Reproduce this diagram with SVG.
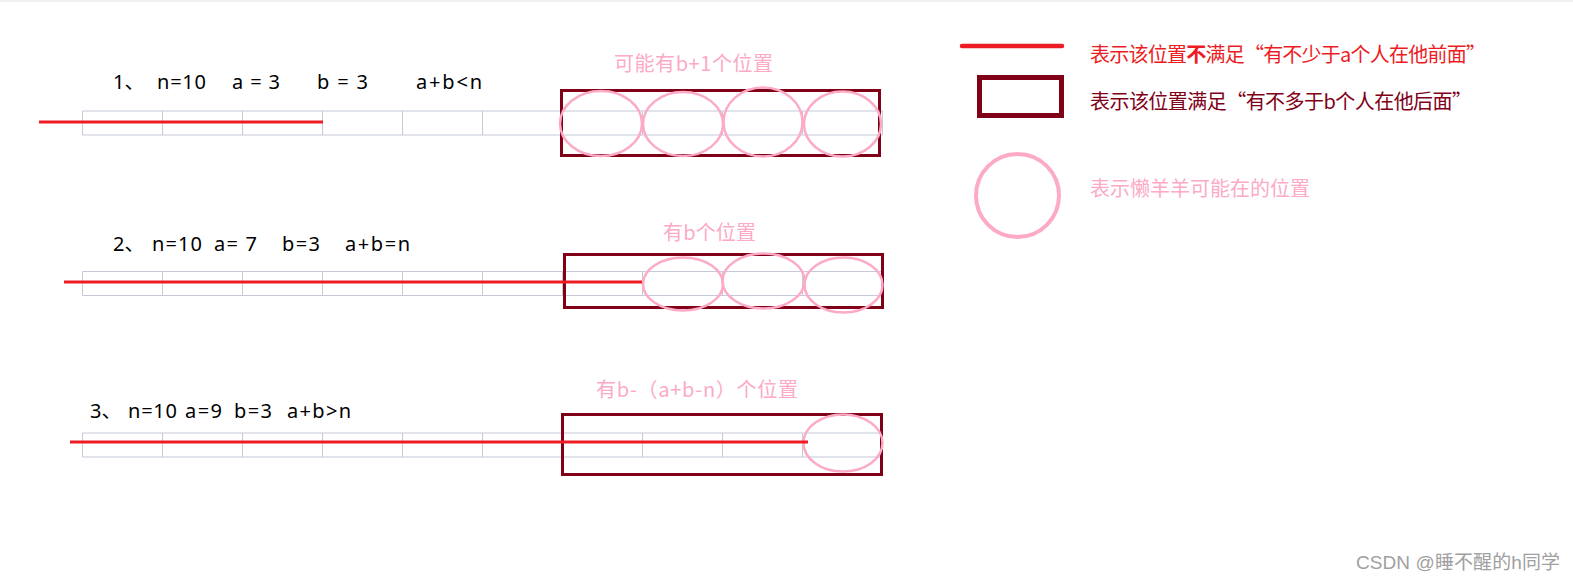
<svg xmlns="http://www.w3.org/2000/svg" width="1573" height="584" viewBox="0 0 1573 584">
<style>
.grid{fill:none;stroke:#c5c9d8;stroke-width:1}
.red{stroke:#ed1c24;stroke-width:3;fill:none}
.box{fill:none;stroke:#800018;stroke-width:3}
.pos{fill:none;stroke:#fcaac6;stroke-width:2.5}
.t{font-family:"Noto Sans","Noto Sans CJK SC",sans-serif;font-size:20px;fill:#000}
.pk{font-family:"Noto Sans CJK SC","Liberation Sans",sans-serif;font-size:20px;fill:#fcaac6}
.lg{font-family:"Noto Sans CJK SC","Liberation Sans",sans-serif;font-size:20px}
.wm{font-family:"Liberation Sans","Noto Sans CJK SC",sans-serif;font-size:19px;fill:#a0a0a0}
</style>
<defs>
<g id="row">
<path class="grid" d="M82.5,0.5H882.5V24.5H82.5Z M162.5,0.5V24.5 M242.5,0.5V24.5 M322.5,0.5V24.5 M402.5,0.5V24.5 M482.5,0.5V24.5 M562.5,0.5V24.5 M642.5,0.5V24.5 M722.5,0.5V24.5 M802.5,0.5V24.5"/>
</g>
</defs>
<rect x="0" y="0" width="1573" height="584" fill="#fff"/>
<rect x="0" y="0" width="1573" height="2" fill="#f0f0f0"/>

<g id="case1">
<use href="#row" x="0" y="110.5"/>
<text class="t" x="113" y="89">1、</text>
<text class="t" x="157" y="89" textLength="49" lengthAdjust="spacing">n=10</text>
<text class="t" x="232" y="89" textLength="48" lengthAdjust="spacing">a = 3</text>
<text class="t" x="317" y="89" textLength="51" lengthAdjust="spacing">b = 3</text>
<text class="t" x="416" y="89" textLength="66" lengthAdjust="spacing">a+b&lt;n</text>
<rect class="box" x="561.5" y="90.5" width="318" height="65"/>
<ellipse class="pos" cx="601" cy="123.5" rx="41" ry="32.5"/>
<ellipse class="pos" cx="683" cy="124" rx="40" ry="32"/>
<ellipse class="pos" cx="763" cy="122" rx="39.5" ry="34.5"/>
<ellipse class="pos" cx="842.5" cy="124" rx="38.5" ry="32.5"/>
<text class="pk" x="614" y="71" textLength="159" lengthAdjust="spacing">可能有b+1个位置</text>
</g>

<g id="case2">
<use href="#row" x="0" y="271"/>
<text class="t" x="113" y="251">2、</text>
<text class="t" x="152" y="251" textLength="50" lengthAdjust="spacing">n=10</text>
<text class="t" x="214" y="251" textLength="43" lengthAdjust="spacing">a= 7</text>
<text class="t" x="282" y="251" textLength="38" lengthAdjust="spacing">b=3</text>
<text class="t" x="345" y="251" textLength="65" lengthAdjust="spacing">a+b=n</text>
<rect class="box" x="564.5" y="254.5" width="318" height="53"/>
<ellipse class="pos" cx="683" cy="284" rx="40" ry="26.5"/>
<ellipse class="pos" cx="763.5" cy="281" rx="41" ry="27.5"/>
<ellipse class="pos" cx="843.5" cy="285" rx="39" ry="27.5"/>
<text class="pk" x="663" y="240" textLength="93" lengthAdjust="spacing">有b个位置</text>
</g>

<g id="case3">
<use href="#row" x="0" y="432.5"/>
<text class="t" x="90" y="418">3、</text>
<text class="t" x="128" y="418" textLength="49" lengthAdjust="spacing">n=10</text>
<text class="t" x="185" y="418" textLength="37" lengthAdjust="spacing">a=9</text>
<text class="t" x="234" y="418" textLength="38" lengthAdjust="spacing">b=3</text>
<text class="t" x="287" y="418" textLength="64" lengthAdjust="spacing">a+b&gt;n</text>
<rect class="box" x="562.5" y="414.5" width="319" height="60"/>
<ellipse class="pos" cx="843" cy="443" rx="39.5" ry="28.5"/>
<text class="pk" x="596" y="397" textLength="202" lengthAdjust="spacing">有b-（a+b-n）个位置</text>
</g>

<g id="connectors">
<line class="red" x1="39" y1="122" x2="323" y2="122"/>
<line class="red" x1="64" y1="282" x2="642" y2="282"/>
<line class="red" x1="70" y1="442" x2="808" y2="442"/>
</g>

<g id="legend">
<line x1="962" y1="46" x2="1062" y2="46" stroke="#ed1c24" stroke-width="4.5" stroke-linecap="round"/>
<text class="lg" x="1090" y="62" fill="#ed1c24" textLength="396" lengthAdjust="spacing">表示该位置<tspan font-weight="bold">不</tspan>满足“有不少于a个人在他前面”</text>
<rect x="979.5" y="77.5" width="82" height="38" fill="none" stroke="#800018" stroke-width="5"/>
<text class="lg" x="1090" y="109" fill="#800018" textLength="382" lengthAdjust="spacing">表示该位置满足“有不多于b个人在他后面”</text>
<circle cx="1017.5" cy="195.5" r="41.5" fill="none" stroke="#fcaac6" stroke-width="4"/>
<text class="lg" x="1090" y="196" fill="#fcaac6" textLength="220" lengthAdjust="spacing">表示懒羊羊可能在的位置</text>
</g>

<text class="wm" x="1356" y="569" textLength="204" lengthAdjust="spacing">CSDN @睡不醒的h同学</text>
</svg>
